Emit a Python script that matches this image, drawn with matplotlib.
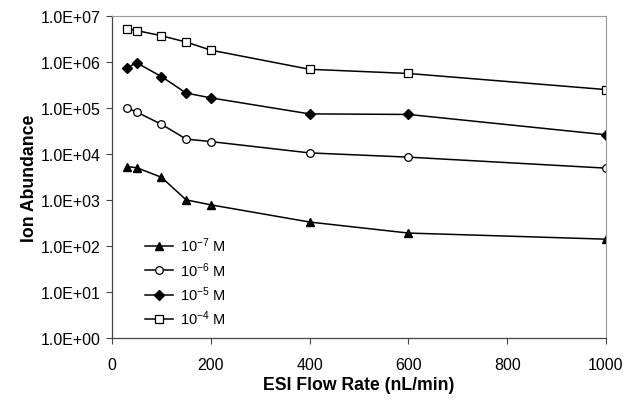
import matplotlib.pyplot as plt
from matplotlib.ticker import FuncFormatter, FixedLocator, NullLocator

plt.rcParams['font.family'] = ['Liberation Sans', 'DejaVu Sans']
plt.rcParams['mathtext.default'] = 'regular'

# flow rates (nL/min)
flow = [30, 50, 100, 150, 200, 400, 600, 1000]
# ion abundance for each concentration
conc_1e7 = [5300, 5000, 3100, 1000, 780, 330, 190, 140]
conc_1e6 = [100000, 81000, 44000, 21000, 18500, 10500, 8500, 4900]
conc_1e5 = [750000, 950000, 480000, 210000, 165000, 74000, 72000, 26000]
conc_1e4 = [5200000, 4800000, 3700000, 2700000, 1800000, 690000, 560000, 250000]
labels = ['10$^{-7}$ M', '10$^{-6}$ M', '10$^{-5}$ M', '10$^{-4}$ M']

fig = plt.figure(figsize=(6.26, 4.02), dpi=100)
ax = fig.add_axes([0.179, 0.157, 0.789, 0.801])

ax.plot(flow, conc_1e7, color='k', lw=1.1, marker='^', ms=6, mfc='k', mec='k', label=labels[0])
ax.plot(flow, conc_1e6, color='k', lw=1.1, marker='o', ms=5.5, mfc='white', mec='k', mew=0.9, label=labels[1])
ax.plot(flow, conc_1e5, color='k', lw=1.1, marker='D', ms=5, mfc='k', mec='k', label=labels[2])
ax.plot(flow, conc_1e4, color='k', lw=1.1, marker='s', ms=5.5, mfc='white', mec='k', mew=0.9, label=labels[3])

ax.set_yscale('log')
ax.set_ylim(1, 1e7)
ax.set_xlim(0, 1000)
ax.yaxis.set_major_locator(FixedLocator([10.0**k for k in range(8)]))
ax.yaxis.set_minor_locator(NullLocator())
ax.yaxis.set_major_formatter(FuncFormatter(lambda v, p: f"{v:.1E}"))
ax.set_xticks([0, 200, 400, 600, 800, 1000])

ax.tick_params(axis='both', direction='out', length=4, width=0.8, color='#444444',
               labelsize=11.5, pad=4)
ax.tick_params(axis='x', pad=10)
for s in ['left', 'bottom']:
    ax.spines[s].set_color('#444444')
    ax.spines[s].set_linewidth(0.9)
for s in ['top', 'right']:
    ax.spines[s].set_color('#999999')
    ax.spines[s].set_linewidth(0.8)

ax.set_xlabel('ESI Flow Rate (nL/min)', fontsize=12.7, fontweight='bold', labelpad=3)
ax.set_ylabel('Ion Abundance', fontsize=12.7, fontweight='bold', labelpad=2)

ax.legend(loc='upper left', bbox_to_anchor=(0.055, 0.335), frameon=False, fontsize=10.5,
          handlelength=1.9, handletextpad=0.5, labelspacing=0.38, borderaxespad=0)

fig.savefig('out.png', dpi=100)
